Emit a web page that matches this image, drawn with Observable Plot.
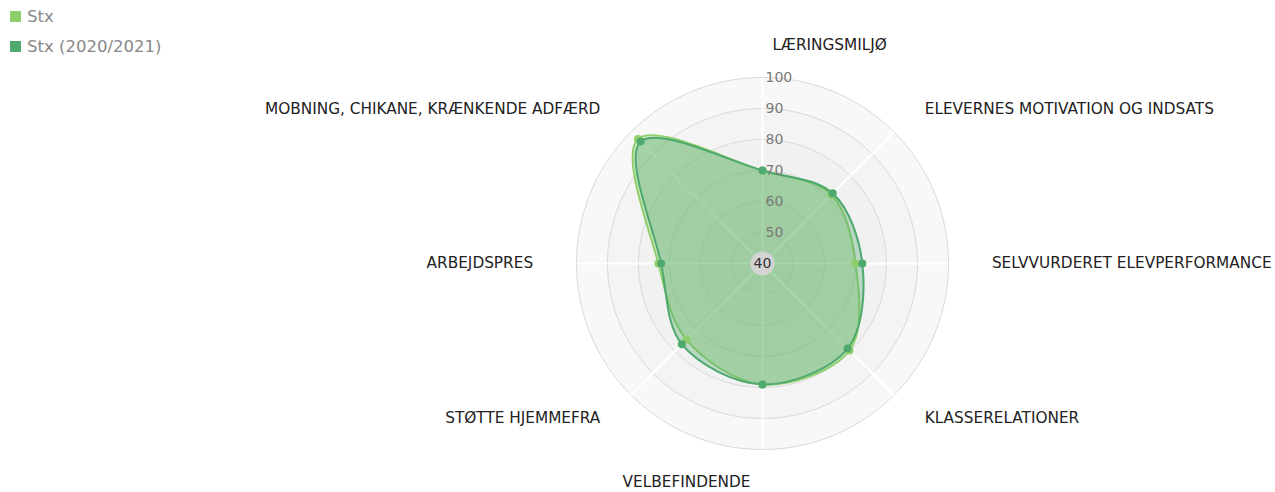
<!DOCTYPE html>
<html>
<head>
<meta charset="utf-8">
<script src="https://cdn.jsdelivr.net/npm/d3@7"></script>
<script src="https://cdn.jsdelivr.net/npm/@observablehq/plot@0.6"></script>
<style>
  html, body { margin: 0; padding: 0; background: #fff; }
  #wrap { position: relative; width: 1275px; height: 492px; font-family: "DejaVu Sans", Verdana, sans-serif; }
  #legend { position: absolute; left: 10px; top: 2px; font-size: 16.5px; color: #888; line-height: 30px; }
  #legend .sw { display: inline-block; width: 11px; height: 11px; margin-right: 6px; vertical-align: 0px; }
</style>
</head>
<body>
<div id="wrap">
  <div id="chart"></div>
  <div id="legend"></div>
</div>
<script>
// ---- data ----
const categories = [
  "LÆRINGSMILJØ",
  "ELEVERNES MOTIVATION OG INDSATS",
  "SELVVURDERET ELEVPERFORMANCE",
  "KLASSERELATIONER",
  "VELBEFINDENDE",
  "STØTTE HJEMMEFRA",
  "ARBEJDSPRES",
  "MOBNING, CHIKANE, KRÆNKENDE ADFÆRD"
];
const seriesNames = ["Stx", "Stx (2020/2021)"];
const stxValues = [70, 71.4, 70, 79.7, 79, 74.7, 73.6, 96.8];
const stx2021Values = [70, 72, 72.2, 78.8, 79, 76.8, 72.7, 95.6];
const radialTicks = [40, 50, 60, 70, 80, 90, 100];
const seriesColors = ["#8fcf6b", "#4ea96e"];
const bandColors = ["#f8f8f8", "#f4f4f4", "#f1f1f1", "#efefef", "#ededed", "#ebebeb"];

// ---- geometry helpers ----
const rMin = 40, rMax = 100;
const pxPerUnit = 3.1, cx = 762, cy = 263, W = 1275, H = 492;
const angleOf = i => (i / categories.length) * 2 * Math.PI; // clockwise from top
const polar = (v, a) => ({x: (v - rMin) * Math.sin(a), y: (v - rMin) * Math.cos(a)});

const series = [stxValues, stx2021Values].map((vals, s) =>
  vals.map((v, i) => ({series: seriesNames[s], cat: categories[i], value: v, ...polar(v, angleOf(i))}))
);

const circleAngles = d3.range(0, 360, 2).map(d => d * Math.PI / 180);
const ringLevels = radialTicks.filter(t => t > rMin).reverse(); // 100..50
const bands = ringLevels.flatMap((lvl, k) =>
  circleAngles.map(a => ({level: lvl, band: k, ...polar(lvl, a)})));
const spokes = categories.map((c, i) => {
  const p = polar(rMax, angleOf(i));
  return {x1: 0, y1: 0, x2: p.x, y2: p.y};
});
const labels = categories.map((c, i) => {
  const a = angleOf(i);
  const s = Math.round(Math.sin(a) * 1000) / 1000;
  return {
    text: c,
    x: 74 * Math.sin(a),
    y: 70.6 * Math.cos(a),
    anchor: s > 0 ? "start" : s < 0 ? "end" : (Math.cos(a) > 0 ? "start" : "end"),
    dx: s === 0 ? (Math.cos(a) > 0 ? 10 : -12) : 0
  };
});
const tickData = radialTicks.filter(t => t > rMin).map(t => ({t, x: 0, y: t - rMin}));

const chart = Plot.plot({
  width: W, height: H,
  margin: 0,
  x: {domain: [-cx / pxPerUnit, (W - cx) / pxPerUnit], axis: null},
  y: {domain: [-(H - cy) / pxPerUnit, cy / pxPerUnit], axis: null},
  style: {fontFamily: "'DejaVu Sans', Verdana, sans-serif", background: "#fff"},
  marks: [
    // background bands
    ...ringLevels.map((lvl, k) =>
      Plot.line(bands.filter(d => d.level === lvl), {x: "x", y: "y", curve: "linear-closed", fill: bandColors[k], stroke: "none"})),
    // grid rings
    Plot.line(bands, {x: "x", y: "y", z: "level", curve: "linear-closed", stroke: "#d9d9d9", strokeWidth: 1, fill: "none"}),
    // spokes
    Plot.link(spokes, {x1: "x1", y1: "y1", x2: "x2", y2: "y2", stroke: "#ffffff", strokeWidth: 2}),
    // series
    ...series.map((data, s) =>
      Plot.line(data, {x: "x", y: "y", curve: "catmull-rom-closed", fill: seriesColors[s], fillOpacity: 0.35, stroke: seriesColors[s], strokeWidth: 2})),
    ...series.map((data, s) =>
      Plot.dot(data, {x: "x", y: "y", r: 4, fill: seriesColors[s], stroke: "none", title: d => `${d.series} – ${d.cat}: ${d.value}`})),
    // radial tick labels
    Plot.text(tickData, {x: "x", y: "y", text: d => String(d.t), textAnchor: "start", dx: 3, fill: "#7a7a7a", fontSize: 14}),
    Plot.dot([{x: 0, y: 0}], {x: "x", y: "y", r: 12, fill: "#d4d4d4", stroke: "none"}),
    Plot.text([{x: 0, y: 0, t: rMin}], {x: "x", y: "y", text: d => String(d.t), fill: "#333", fontSize: 14}),
    // category labels
    Plot.text(labels, {x: "x", y: "y", text: "text", textAnchor: "anchor", fill: "#222", fontSize: 15.3})
      ,
  ]
});
// apply per-label dx (text anchor handled via channel not supported -> set afterwards)
document.getElementById("chart").appendChild(chart);

// Fix label anchors/dx (Plot's textAnchor is constant; adjust the rendered texts)
const texts = chart.querySelectorAll("g[aria-label='text']");
const labelGroup = texts[texts.length - 1];
labelGroup.removeAttribute("text-anchor");
labelGroup.querySelectorAll("text").forEach((t, i) => {
  t.setAttribute("text-anchor", labels[i].anchor);
  if (labels[i].dx) t.setAttribute("dx", labels[i].dx);
});

// legend
const legend = document.getElementById("legend");
seriesNames.forEach((n, s) => {
  const row = document.createElement("div");
  row.innerHTML = `<span class="sw" style="background:${seriesColors[s]}"></span>${n}`;
  legend.appendChild(row);
});
</script>
</body>
</html>
